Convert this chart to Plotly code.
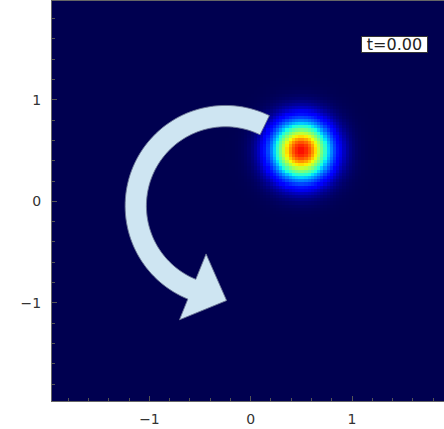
import numpy as np
import plotly.graph_objects as go

# ---------------- data ----------------
grid_n = 128                     # heatmap cells per side
grid_min, grid_max = -2.0, 2.0   # extent of the field
blob_center_x = 0.5
blob_center_y = 0.5
blob_peak = 0.9
blob_width_sq = 0.07             # exp(-r^2 / width_sq)

x_tick_vals = [-1, 0, 1]
y_tick_vals = [-1, 0, 1]
tick_text = ["\u22121", "0", "1"]
time_label = "t=0.00"

# rotation arrow (decoration) parameters
arrow_cx, arrow_cy = -0.25, -0.045
arrow_r_out, arrow_r_in = 0.99, 0.78
arrow_theta_start, arrow_theta_end = 64.0, 248.0
head_r_in, head_r_out = 0.51, 1.21
head_len = 0.36

# ---------------- field ----------------
cell = (grid_max - grid_min) / grid_n
xc = grid_min + cell * (np.arange(grid_n) + 0.5)
yc = grid_min + cell * (np.arange(grid_n) + 0.5)
XX, YY = np.meshgrid(xc, yc)
Z = blob_peak * np.exp(-((XX - blob_center_x) ** 2 + (YY - blob_center_y) ** 2) / blob_width_sq)

jet = [
    [0.0, "rgb(0,0,80)"],
    [0.11, "rgb(0,0,255)"],
    [0.125, "rgb(0,0,255)"],
    [0.34, "rgb(0,219,255)"],
    [0.35, "rgb(0,230,247)"],
    [0.375, "rgb(21,255,226)"],
    [0.64, "rgb(238,255,8)"],
    [0.65, "rgb(247,245,0)"],
    [0.66, "rgb(255,236,0)"],
    [0.89, "rgb(255,19,0)"],
    [0.91, "rgb(232,0,0)"],
    [1.0, "rgb(128,0,0)"],
]

fig = go.Figure(
    go.Heatmap(
        x=xc, y=yc, z=Z, zmin=0, zmax=1, colorscale=jet,
        showscale=False, zsmooth=False, hoverinfo="skip",
    )
)

# ---------------- arrow path ----------------
def pol(r, deg):
    t = np.deg2rad(deg)
    return arrow_cx + r * np.cos(t), arrow_cy + r * np.sin(t)

angles = np.linspace(arrow_theta_start, arrow_theta_end, 80)
pts = [pol(arrow_r_out, a) for a in angles]
pts.append(pol(head_r_out, arrow_theta_end))
r_mid = 0.5 * (head_r_in + head_r_out)
mx, my = pol(r_mid, arrow_theta_end)
te = np.deg2rad(arrow_theta_end)
pts.append((mx - head_len * np.sin(te), my + head_len * np.cos(te)))
pts.append(pol(head_r_in, arrow_theta_end))
pts += [pol(arrow_r_in, a) for a in angles[::-1]]
path = "M " + " L ".join(f"{px:.4f},{py:.4f}" for px, py in pts) + " Z"

fig.add_shape(
    type="path", path=path, xref="x", yref="y",
    fillcolor="rgb(206,229,242)", line=dict(color="rgba(110,120,150,0.9)", width=1),
    layer="above",
)

fig.add_annotation(
    x=1.424, y=1.544, xref="x", yref="y", text=time_label, showarrow=False,
    font=dict(family="DejaVu Sans", size=16, color="#222"),
    bgcolor="white", bordercolor="#333", borderwidth=1, borderpad=0,
    width=65, height=15, valign="middle",
)

axis_common = dict(
    showgrid=False, zeroline=False, ticks="inside", ticklen=5, tickwidth=1,
    tickcolor="#555", showline=True, linecolor="#666", linewidth=1, mirror=True,
    tickfont=dict(family="DejaVu Sans", size=14, color="#333"),
    minor=dict(dtick=0.2, ticks="inside", ticklen=3, tickcolor="#555"),
)

fig.update_xaxes(range=[-1.962, 1.908], tickvals=x_tick_vals,
                 ticktext=tick_text, ticklabelstandoff=5, **axis_common)
fig.update_yaxes(range=[-1.967, 1.974], tickvals=y_tick_vals,
                 ticktext=tick_text, ticklabelstandoff=7, **axis_common)

fig.update_layout(
    width=444, height=429,
    margin=dict(l=52, r=0, t=1, b=28),
    paper_bgcolor="white", plot_bgcolor="rgb(0,0,80)",
    showlegend=False,
)

fig.write_html("out.html")
